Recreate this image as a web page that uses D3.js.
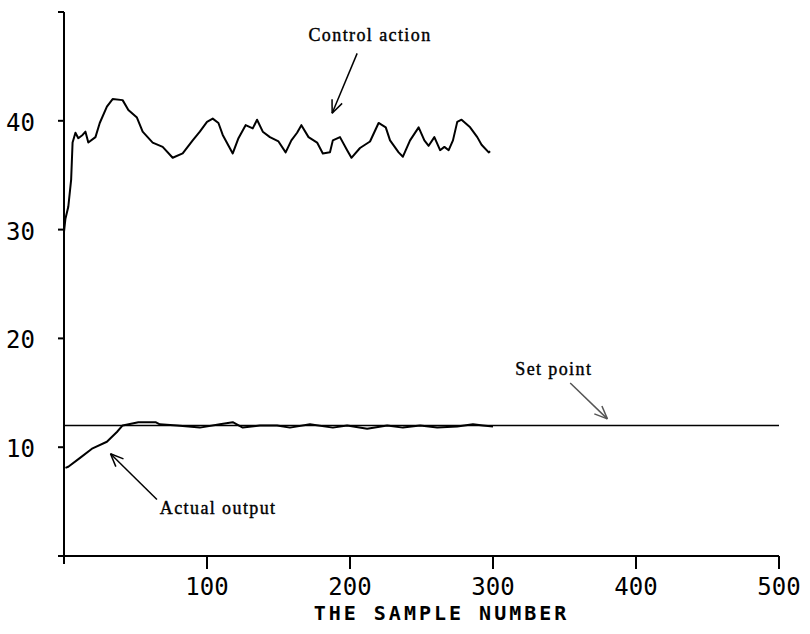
<!DOCTYPE html>
<html>
<head>
<meta charset="utf-8">
<script src="https://cdn.jsdelivr.net/npm/d3@7"></script>
<style>
  body { margin: 0; background: #fff; }
  svg { display: block; }
  .tick-label { font-family: "DejaVu Sans Mono", monospace; font-size: 24px; fill: #000; }
  .axis-title { font-family: "DejaVu Sans Mono", monospace; font-size: 20px; font-weight: bold; letter-spacing: 3px; fill: #000; }
  .note { font-family: "Liberation Serif", "Times New Roman", serif; font-size: 18px; letter-spacing: 1.4px; fill: #000; stroke: #000; stroke-width: 0.4px; }
</style>
</head>
<body>
<div id="chart"></div>
<script>
// sample number / value pairs
var control_samples = [0, 1, 3, 5, 6, 8, 10, 13, 15, 17, 22, 25, 30, 34, 41, 45, 51, 55, 62, 69, 76, 83, 90, 95, 100, 104, 108, 111, 118, 122, 127, 132, 135, 139, 144, 150, 155, 159, 163, 166, 171, 177, 181, 186, 188, 193, 198, 201, 207, 214, 220, 225, 228, 234, 237, 242, 248, 252, 255, 259, 263, 266, 269, 272, 275, 278, 284, 289, 292, 297, 298];
var control_values  = [29.8, 31, 32.1, 34.6, 38, 38.9, 38.4, 38.7, 39, 38, 38.5, 39.8, 41.3, 42, 41.9, 41, 40.3, 39, 38, 37.6, 36.6, 37, 38.2, 39, 39.9, 40.2, 39.8, 38.7, 37, 38.4, 39.6, 39.3, 40.1, 39, 38.5, 38.1, 37.1, 38.2, 38.9, 39.6, 38.5, 38, 37, 37.1, 38.2, 38.5, 37.3, 36.6, 37.5, 38.1, 39.8, 39.4, 38.2, 37.1, 36.7, 38.2, 39.4, 38.2, 37.7, 38.5, 37.3, 37.6, 37.3, 38.2, 39.9, 40.1, 39.4, 38.5, 37.8, 37.1, 37.2];

var output_samples = [1, 3, 11, 20, 30, 37, 41, 52, 64, 67, 79, 95, 109, 118, 125, 137, 149, 158, 172, 188, 198, 212, 226, 237, 249, 261, 275, 286, 293, 300];
var output_values  = [8.1, 8.2, 9.0, 9.9, 10.5, 11.4, 12.0, 12.3, 12.3, 12.1, 12.0, 11.8, 12.1, 12.3, 11.8, 12.0, 12.0, 11.8, 12.1, 11.8, 12.0, 11.7, 12.0, 11.8, 12.0, 11.8, 11.9, 12.1, 12.0, 11.9];

var setpoint_samples = [0, 500];
var setpoint_values  = [12, 12];

var x_ticks = [100, 200, 300, 400, 500];
var y_ticks = [10, 20, 30, 40];

var width = 810, height = 634;

var svg = d3.select("#chart").append("svg")
    .attr("width", width)
    .attr("height", height);

var x = d3.scaleLinear().domain([0, 500]).range([64, 779]);
var y = d3.scaleLinear().domain([0, 50]).range([556, 12]);

// axes drawn by hand to look like the plotter output
var axis = svg.append("g").attr("stroke", "#000").attr("stroke-width", 2).attr("fill", "none");

axis.append("line")
  .attr("x1", x(0)).attr("x2", x(0))
  .attr("y1", y(50)).attr("y2", y(0) + 8);

axis.append("line")
  .attr("x1", x(0) - 6).attr("x2", x(500))
  .attr("y1", y(0)).attr("y2", y(0));

axis.selectAll(".ytick")
  .data(y_ticks.concat([50]))
  .enter().append("line")
  .attr("x1", x(0) - 6).attr("x2", x(0))
  .attr("y1", function(d) { return y(d); })
  .attr("y2", function(d) { return y(d); });

axis.selectAll(".xtick")
  .data(x_ticks)
  .enter().append("line")
  .attr("x1", function(d) { return x(d); })
  .attr("x2", function(d) { return x(d); })
  .attr("y1", y(0)).attr("y2", y(0) + 13);

svg.selectAll(".xlabel")
  .data(x_ticks)
  .enter().append("text")
  .attr("class", "tick-label")
  .attr("x", function(d) { return x(d); })
  .attr("y", y(0) + 39)
  .attr("text-anchor", "middle")
  .text(function(d) { return d; });

svg.selectAll(".ylabel")
  .data(y_ticks)
  .enter().append("text")
  .attr("class", "tick-label")
  .attr("x", x(0) - 29)
  .attr("y", function(d) { return y(d) + 3; })
  .attr("text-anchor", "end")
  .attr("dominant-baseline", "middle")
  .text(function(d) { return d; });

svg.append("text")
  .attr("class", "axis-title")
  .attr("x", x(264))
  .attr("y", y(0) + 64)
  .attr("text-anchor", "middle")
  .text("THE SAMPLE NUMBER");

// series
var line = d3.line()
  .x(function(d) { return x(d[0]); })
  .y(function(d) { return y(d[1]); });

var series = [
  { xs: setpoint_samples, ys: setpoint_values, w: 1.6 },
  { xs: output_samples, ys: output_values, w: 2 },
  { xs: control_samples, ys: control_values, w: 2 }
];

svg.selectAll(".series")
  .data(series)
  .enter().append("path")
  .attr("fill", "none")
  .attr("stroke", "#000")
  .attr("stroke-width", function(d) { return d.w; })
  .attr("stroke-linejoin", "round")
  .attr("d", function(d) { return line(d3.zip(d.xs, d.ys)); });

// annotations, positions in data units
var notes = [
  { text: "Control action", tx: 214, ty: 47.3, anchor: "middle", from: [205, 46.2], to: [187.5, 40.7], c: "#000" },
  { text: "Set point", tx: 342.5, ty: 16.6, anchor: "middle", from: [354, 15.9], to: [380, 12.6], c: "#555" },
  { text: "Actual output", tx: 67, ty: 3.9, anchor: "start", from: [65, 5.2], to: [32.5, 9.4], c: "#000" }
];

notes.forEach(function(n) {
  svg.append("text")
    .attr("class", "note")
    .attr("x", x(n.tx))
    .attr("y", y(n.ty))
    .attr("text-anchor", n.anchor)
    .text(n.text);

  var x1 = x(n.from[0]), y1 = y(n.from[1]), x2 = x(n.to[0]), y2 = y(n.to[1]);
  var ang = Math.atan2(y2 - y1, x2 - x1);
  var g = svg.append("g").attr("stroke", n.c).attr("stroke-width", 1.5).attr("fill", "none");
  g.append("line").attr("x1", x1).attr("y1", y1).attr("x2", x2).attr("y2", y2);
  [-0.4, 0.4].forEach(function(a) {
    g.append("line")
      .attr("x1", x2).attr("y1", y2)
      .attr("x2", x2 - 14 * Math.cos(ang + a))
      .attr("y2", y2 - 14 * Math.sin(ang + a));
  });
});
</script>
</body>
</html>
